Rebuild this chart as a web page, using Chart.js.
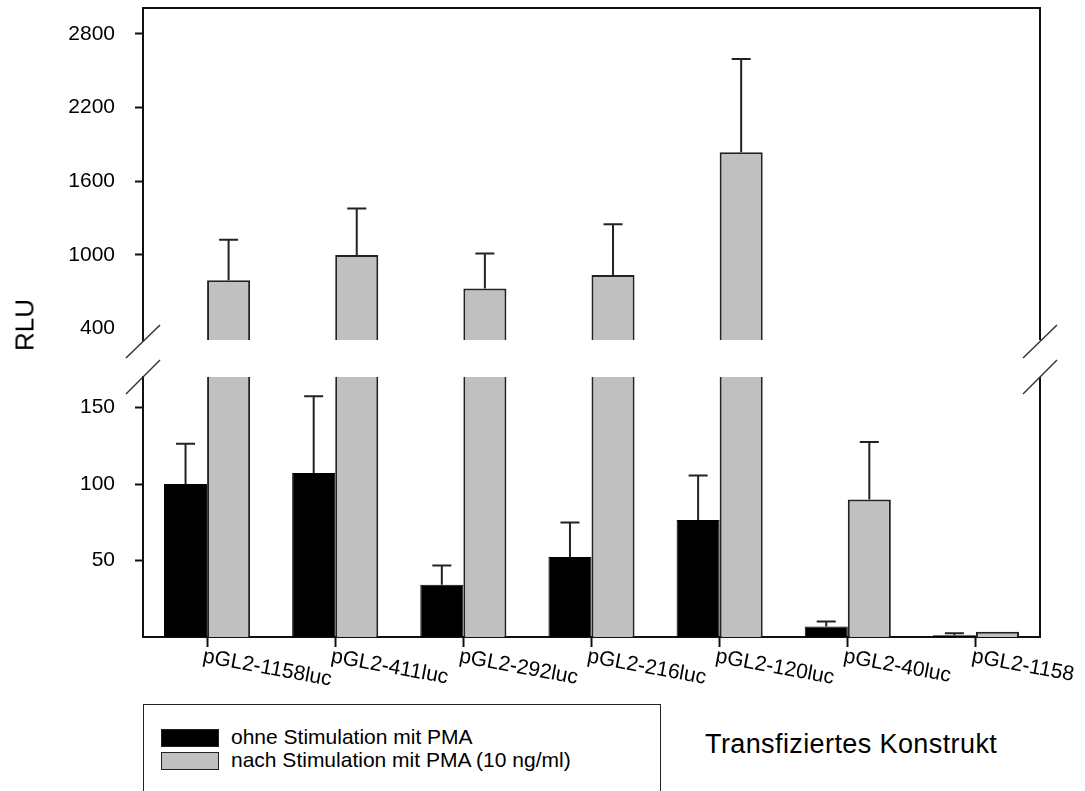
<!DOCTYPE html>
<html><head><meta charset="utf-8">
<script src="https://cdn.jsdelivr.net/npm/chart.js@4"></script>
<style>
html,body{margin:0;padding:0;background:#fff;}
body{width:1085px;height:791px;position:relative;overflow:hidden;font-family:"Liberation Sans",Arial,sans-serif;color:#000;}
canvas{position:absolute;left:0;}
#upper{top:0;}
#lower{top:355px;}
#rlu{position:absolute;left:25px;top:325px;transform:translate(-50%,-50%) rotate(-90deg);font-size:26px;white-space:nowrap;}
#legend{position:absolute;left:143px;top:704px;width:518px;height:110px;border:1.5px solid #222;box-sizing:border-box;}
.item{position:absolute;left:17px;height:18px;}
.sw{position:absolute;left:0;top:0;width:58px;height:18px;box-sizing:border-box;border:1.5px solid #222;}
.lbl{position:absolute;left:70px;top:-4px;font-size:21px;white-space:nowrap;line-height:24px;}
#xtitle{position:absolute;left:705px;top:728px;font-size:27px;white-space:nowrap;line-height:32px;letter-spacing:0.4px;}
</style></head><body>
<canvas id="upper" width="1085" height="362"></canvas>
<canvas id="lower" width="1085" height="345"></canvas>
<div id="rlu">RLU</div>
<div id="legend"></div>
<div id="xtitle">Transfiziertes Konstrukt</div>
<script>
// ---- data ----
const categories = ["pGL2-1158luc", "pGL2-411luc", "pGL2-292luc", "pGL2-216luc", "pGL2-120luc", "pGL2-40luc", "pGL2-1158"];
const seriesNames = ["ohne Stimulation mit PMA", "nach Stimulation mit PMA (10 ng/ml)"];
const ohnePMA = [100, 107.3, 34.2, 52.3, 76.5, 6.9, 1.2];
const ohnePMAErr = [26.3, 50.1, 12.5, 22.5, 29.1, 3.3, 1.3];
const nachPMA = [795, 1000, 727, 836, 1837, 89.9, 3.4];
const nachPMAErr = [328, 379, 284, 415, 758, 37.6, 0];
const upperTicks = [400, 1000, 1600, 2200, 2800];
const lowerTicks = [50, 100, 150];
const upperRange = [308, 3010];
const lowerRange = [0, 170];
const axisTitle = "RLU";

const colors = ["#000000", "#c0c0c0"];
const borders = ["#000000", "#222222"];
const errors = [ohnePMAErr, nachPMAErr];

// legend (HTML)
const leg = document.getElementById('legend');
seriesNames.forEach((n, i) => {
  const it = document.createElement('div');
  it.className = 'item';
  it.style.top = (24 + i * 23) + 'px';
  const sw = document.createElement('div');
  sw.className = 'sw';
  sw.style.background = colors[i];
  const lb = document.createElement('div');
  lb.className = 'lbl';
  lb.textContent = n;
  it.appendChild(sw); it.appendChild(lb);
  leg.appendChild(it);
});
document.getElementById('rlu').textContent = axisTitle;

function datasets() {
  return [ohnePMA, nachPMA].map((d, i) => ({
    label: seriesNames[i],
    data: d,
    backgroundColor: colors[i],
    borderColor: borders[i],
    borderWidth: i === 0 ? 1 : 2,
    categoryPercentage: 0.672,
    barPercentage: 1.0,
    clip: 0
  }));
}

const errorBars = {
  id: 'errorBars',
  afterDatasetsDraw(chart) {
    const ctx = chart.ctx, a = chart.chartArea, y = chart.scales.y;
    ctx.save();
    ctx.beginPath(); ctx.rect(a.left, a.top, a.right - a.left, a.bottom - a.top); ctx.clip();
    ctx.strokeStyle = '#222'; ctx.lineWidth = 2;
    chart.data.datasets.forEach((ds, di) => {
      const meta = chart.getDatasetMeta(di);
      meta.data.forEach((bar, j) => {
        const e = errors[di][j];
        if (!e) return;
        const yTop = y.getPixelForValue(ds.data[j] + e);
        ctx.beginPath();
        ctx.moveTo(bar.x, bar.y); ctx.lineTo(bar.x, yTop);
        ctx.moveTo(bar.x - 9.5, yTop); ctx.lineTo(bar.x + 9.5, yTop);
        ctx.stroke();
      });
    });
    ctx.restore();
  }
};

function frame(part) {
  return {
    id: 'frame',
    afterDraw(chart) {
      const ctx = chart.ctx, a = chart.chartArea;
      ctx.save();
      ctx.strokeStyle = '#111'; ctx.lineWidth = 2;
      ctx.beginPath();
      if (part === 'upper') {
        ctx.moveTo(a.left, a.top); ctx.lineTo(a.right, a.top); ctx.lineTo(a.right, a.bottom);
      } else {
        ctx.moveTo(a.right, a.top); ctx.lineTo(a.right, a.bottom);
      }
      ctx.stroke();
      ctx.strokeStyle = '#333'; ctx.lineWidth = 1.5;
      const yb = part === 'upper' ? a.bottom : a.top;
      [a.left, a.right].forEach(x => {
        ctx.beginPath();
        ctx.moveTo(x - 17, yb + (part === 'upper' ? 18 : 17));
        ctx.lineTo(x + 17, yb - (part === 'upper' ? 15 : 17));
        ctx.stroke();
      });
      ctx.restore();
    }
  };
}

const xLabels = {
  id: 'xLabels',
  afterDraw(chart) {
    const ctx = chart.ctx, xs = chart.scales.x;
    ctx.save();
    ctx.fillStyle = '#000';
    ctx.font = '21px "Liberation Sans", Arial, sans-serif';
    ctx.textAlign = 'left'; ctx.textBaseline = 'top';
    categories.forEach((c, i) => {
      const px = xs.getPixelForTick(i);
      ctx.save();
      ctx.translate(px - 2, xs.top + 9);
      ctx.rotate(10.5 * Math.PI / 180);
      ctx.fillText(c, 0, 0);
      ctx.restore();
    });
    ctx.restore();
  }
};

function makeChart(id, part) {
  const range = part === 'upper' ? upperRange : lowerRange;
  const ticks = part === 'upper' ? upperTicks : lowerTicks;
  return new Chart(document.getElementById(id), {
    type: 'bar',
    data: { labels: categories, datasets: datasets() },
    options: {
      responsive: false,
      animation: false,
      devicePixelRatio: 1,
      layout: { padding: part === 'upper'
        ? { top: 8, bottom: 22, left: 0, right: 45 }
        : { top: 22, bottom: 0, left: 0, right: 45 } },
      plugins: { legend: { display: false }, tooltip: { enabled: false } },
      scales: {
        x: {
          display: part !== 'upper',
          offset: true,
          grid: { offset: false, drawOnChartArea: false, drawTicks: true, tickLength: 10, tickWidth: 2, tickColor: '#111' },
          border: { display: true, color: '#111', width: 2 },
          ticks: { display: false },
          afterFit: s => { if (part !== 'upper') s.height = 63; s.paddingLeft = 0; s.paddingRight = 0; }
        },
        y: {
          min: range[0], max: range[1],
          beginAtZero: false,
          afterBuildTicks: s => { s.ticks = ticks.map(v => ({ value: v })); },
          afterFit: s => { s.width = 143; s.paddingTop = 0; s.paddingBottom = 0; },
          grid: { drawOnChartArea: false, drawTicks: true, tickLength: 8, tickWidth: 2,
                  tickColor: c => (c.tick && c.tick.value === 400) ? 'rgba(0,0,0,0)' : '#111' },
          border: { display: true, color: '#111', width: 2 },
          ticks: { padding: 20, color: '#000', font: { family: '"Liberation Sans", Arial, sans-serif', size: 21 },
                   callback: v => String(v) }
        }
      }
    },
    plugins: part === 'upper' ? [errorBars, frame('upper')] : [errorBars, frame('lower'), xLabels]
  });
}

makeChart('upper', 'upper');
makeChart('lower', 'lower');
</script>
</body></html>
